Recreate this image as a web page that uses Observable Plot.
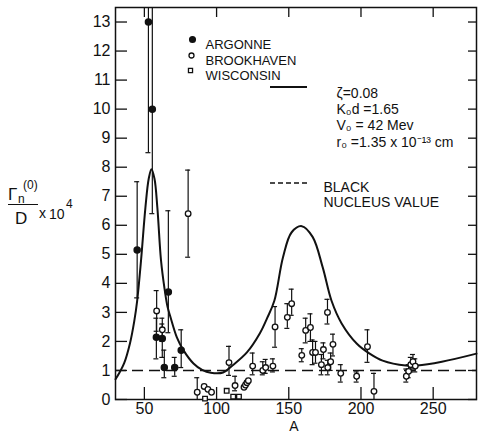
<!DOCTYPE html>
<html><head><meta charset="utf-8">
<script src="https://cdn.jsdelivr.net/npm/d3@7"></script>
<script src="https://cdn.jsdelivr.net/npm/@observablehq/plot@0.6"></script>
<style>
body{margin:0;background:#fff;}
#wrap{position:relative;width:478px;height:436px;font-family:"Liberation Sans",Arial,sans-serif;color:#111;}
#ylab span{position:absolute;line-height:1;white-space:nowrap;}
</style></head><body>
<div id="wrap"><div id="ylab">
<span style="left:8px;top:186px;font-size:17px;">Γ</span>
<span style="left:18px;top:193px;font-size:12px;">n</span>
<span style="left:23px;top:179px;font-size:12px;">(0)</span>
<span style="left:8px;top:204px;width:30px;height:0;border-top:1.4px solid #111;"></span>
<span style="left:15px;top:210px;font-size:17px;">D</span>
<span style="left:39px;top:206px;font-size:14px;">x</span>
<span style="left:49px;top:207px;font-size:14px;">10</span>
<span style="left:66px;top:198px;font-size:12px;">4</span>
</div></div>
<script>
// ---- data ----
const xTicks = [50, 100, 150, 200, 250];
const yTicks = [0, 1, 2, 3, 4, 5, 6, 7, 8, 9, 10, 11, 12, 13];

const argonneA  = [52.8, 55.5, 45, 58.3, 62.4, 63.8, 66.6, 71, 75.5];
const argonneY  = [13.0, 10.0, 5.15, 2.14, 2.1, 1.1, 3.7, 1.1, 1.7];
const argonneLo = [8.5, 6.4, 3.5, 1.4, 1.45, 0.75, 2.3, 0.8, 1.1];
const argonneHi = [14, 14, 7.5, 2.8, 2.6, 1.7, 6.5, 1.45, 2.4];

const brookA  = [80.3, 58.5, 62.4, 86.6, 91.4, 94, 96.5, 108.6, 112.8, 119, 120, 121, 122, 125, 132, 134, 139, 140.5, 149, 152, 159, 161.7, 165, 166.5, 168.5, 172.6, 174, 176.8, 177, 179, 180.6, 186, 197, 204.5, 209, 231.4, 233, 234.5, 236, 237.6];
const brookY  = [6.4, 3.05, 2.4, 0.25, 0.45, 0.35, 0.25, 1.27, 0.48, 0.42, 0.5, 0.58, 0.65, 1.15, 1.0, 1.1, 1.15, 2.5, 2.83, 3.3, 1.52, 2.38, 2.48, 1.62, 1.62, 1.2, 1.72, 3.0, 1.1, 1.3, 1.9, 0.9, 0.8, 1.82, 0.28, 0.8, 0.97, 1.2, 1.3, 1.15];
const brookLo = [4.9, 2.35, 2.0, 0, null, null, null, 0.83, 0.3, null, null, null, null, 0.85, 0.85, 0.9, 0.95, 1.8, 2.45, 2.9, 1.3, 1.95, 2.0, 1.2, 1.25, 0.85, 1.4, 2.6, 0.85, 1.0, 1.5, 0.6, 0.6, 1.28, 0, 0.6, 0.75, 0.95, 1.05, 0.95];
const brookHi = [7.9, 3.75, 2.8, 0.75, null, null, null, 1.83, 0.8, null, null, null, null, 1.6, 1.3, 1.38, 1.4, 3.2, 3.3, 3.8, 1.75, 2.8, 2.95, 2.05, 2.0, 1.55, 1.95, 3.45, 1.35, 1.6, 2.25, 1.2, 0.95, 2.4, 0.9, 1.05, 1.2, 1.45, 1.55, 1.4];

const wiscA = [92, 107, 111.5, 115.5];
const wiscY = [0.03, 0.3, 0.1, 0.1];

const curveA = [30, 33, 36, 40, 43, 45, 47.7, 50.7, 53, 54.9, 57, 59, 61.5, 64, 66, 68, 72.5, 77, 84, 90, 96, 104.5, 111, 121, 130, 135, 140, 146, 152, 159, 166.5, 173.5, 179.6, 186.6, 197, 206, 215, 231, 239, 256, 280];
const curveY = [0.7, 0.95, 1.25, 1.93, 2.7, 3.4, 4.8, 6.6, 7.6, 7.93, 7.6, 6.6, 4.8, 3.8, 3.2, 2.85, 2.14, 1.7, 1.24, 1.02, 0.92, 0.93, 1.17, 1.62, 2.28, 2.8, 3.4, 4.9, 5.76, 5.97, 5.6, 4.55, 3.4, 2.62, 1.93, 1.58, 1.34, 1.17, 1.17, 1.3, 1.58];

const blackNucleus = [1];

// ---- tables ----
const argonne = argonneA.map((A, i) => ({A, y: argonneY[i], lo: argonneLo[i], hi: argonneHi[i]}));
const brook = brookA.map((A, i) => ({A, y: brookY[i], lo: brookLo[i], hi: brookHi[i]}));
const wisc = wiscA.map((A, i) => ({A, y: wiscY[i]}));
const curve = curveA.map((A, i) => ({A, y: curveY[i]}));
const withErr = [...argonne, ...brook].filter(d => d.lo != null);

const ink = "#111";
const F = "Liberation Sans, Arial, sans-serif";
const none = () => "";

const legendLines = (index, scales, values, dims) => {
  const g = d3.create("svg:g").attr("stroke", ink).attr("fill", "none");
  g.append("line").attr("x1", 270).attr("x2", 307).attr("y1", 87).attr("y2", 87).attr("stroke-width", 2);
  g.append("line").attr("x1", 270).attr("x2", 307).attr("y1", 183).attr("y2", 183).attr("stroke-width", 1.3).attr("stroke-dasharray", "5,3");
  return g.node();
};

const TL = {frameAnchor: "top-left", textAnchor: "start", fill: ink, fontFamily: F};

const chart = Plot.plot({
  width: 478, height: 436,
  marginLeft: 115, marginRight: 2, marginTop: 7, marginBottom: 37,
  style: {fontFamily: F, fontSize: "16px", color: ink, background: "white"},
  x: {domain: [30, 280], label: null},
  y: {domain: [0, 13.5], label: null},
  marks: [
    Plot.frame({stroke: ink, strokeWidth: 1.5}),
    Plot.axisX(xTicks, {anchor: "bottom", tickSize: 0, tickPadding: 3, fontSize: 16, label: null}),
    Plot.axisX(xTicks, {anchor: "bottom", tickSize: -12, tickFormat: none, label: null, strokeWidth: 1.3}),
    Plot.axisX(xTicks, {anchor: "top", tickSize: -9, tickFormat: none, label: null, strokeWidth: 1.3}),
    Plot.axisY(yTicks, {anchor: "left", tickSize: 0, tickPadding: 5, fontSize: 16, label: null}),
    Plot.axisY(yTicks, {anchor: "left", tickSize: -12, tickFormat: none, label: null, strokeWidth: 1.3}),
    Plot.axisY(yTicks, {anchor: "right", tickSize: -9, tickFormat: none, label: null, strokeWidth: 1.3}),
    Plot.text(["A"], {frameAnchor: "bottom", dy: 31, dx: -2, fontSize: 14, fill: ink}),
    Plot.ruleY(blackNucleus, {strokeDasharray: "11,6", strokeWidth: 1.5, stroke: ink}),
    Plot.line(curve, {x: "A", y: "y", curve: "catmull-rom", strokeWidth: 2, stroke: ink}),
    Plot.ruleX(withErr, {x: "A", y1: "lo", y2: "hi", stroke: ink, strokeWidth: 1.2, clip: true}),
    Plot.ruleY(withErr, {filter: d => d.hi < 13.5, y: "hi", x1: "A", x2: "A", insetLeft: -2.5, insetRight: -2.5, stroke: ink, strokeWidth: 1.2}),
    Plot.ruleY(withErr, {filter: d => d.lo > 0, y: "lo", x1: "A", x2: "A", insetLeft: -2.5, insetRight: -2.5, stroke: ink, strokeWidth: 1.2}),
    Plot.dot(brook, {x: "A", y: "y", r: 2.8, fill: "white", stroke: ink, strokeWidth: 1.3}),
    Plot.dot(wisc, {x: "A", y: "y", symbol: "square", r: 2.6, fill: "white", stroke: ink, strokeWidth: 1.3}),
    Plot.dot(argonne, {x: "A", y: "y", r: 3, fill: ink, stroke: ink}),
    // legend
    Plot.dot([0], {frameAnchor: "top-left", dx: 77, dy: 32, r: 2.8, fill: ink, stroke: ink}),
    Plot.dot([0], {frameAnchor: "top-left", dx: 76, dy: 48, r: 2.5, fill: "white", stroke: ink, strokeWidth: 1.3}),
    Plot.dot([0], {frameAnchor: "top-left", dx: 75, dy: 63, r: 2.3, symbol: "square", fill: "white", stroke: ink, strokeWidth: 1.3}),
    Plot.text(["ARGONNE"], {...TL, dx: 90, dy: 32, fontSize: 13}),
    Plot.text(["BROOKHAVEN"], {...TL, dx: 90, dy: 48, fontSize: 13}),
    Plot.text(["WISCONSIN"], {...TL, dx: 90, dy: 63, fontSize: 13}),
    legendLines,
    Plot.text(["ζ=0.08"], {...TL, dx: 221, dy: 81, fontSize: 14}),
    Plot.text(["K₀d =1.65"], {...TL, dx: 221, dy: 97, fontSize: 14}),
    Plot.text(["V₀ = 42 Mev"], {...TL, dx: 221, dy: 113, fontSize: 14}),
    Plot.text(["r₀ =1.35 x 10⁻¹³ cm"], {...TL, dx: 221, dy: 130, fontSize: 14}),
    Plot.text(["BLACK"], {...TL, dx: 208, dy: 175, fontSize: 14, letterSpacing: 1}),
    Plot.text(["NUCLEUS VALUE"], {...TL, dx: 208, dy: 190, fontSize: 14, letterSpacing: 1})
  ]
});
chart.style.position = "absolute";
chart.style.left = "0";
chart.style.top = "0";
document.getElementById("wrap").prepend(chart);
</script>
</body></html>
